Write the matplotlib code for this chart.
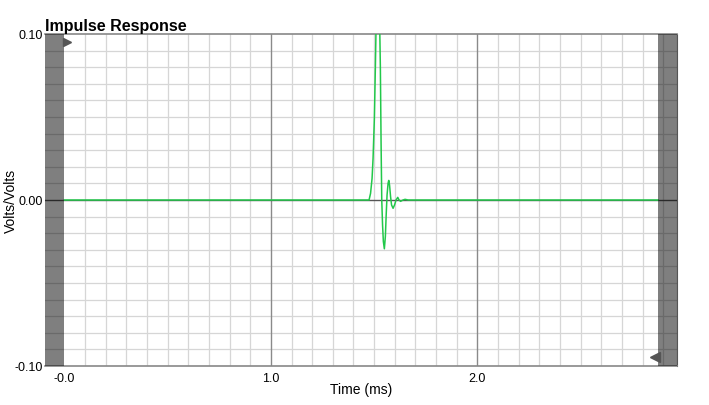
import numpy as np
import matplotlib
matplotlib.use("Agg")
from matplotlib import pyplot as plt
from matplotlib.transforms import blended_transform_factory

# impulse response samples (time in ms, volts/volts)
t_ms = [0.0, 1.4755, 1.4828, 1.4901, 1.4949, 1.5012, 1.5061, 1.5109, 1.5167,
        1.5215, 1.5264, 1.5303, 1.5337, 1.5370, 1.5409, 1.5448, 1.5496,
        1.5545, 1.5588, 1.5627, 1.5676, 1.5709, 1.5748, 1.5797, 1.5845,
        1.5918, 1.5990, 1.6063, 1.6145, 1.6208, 1.6281, 1.6402, 1.6499,
        1.6644, 2.875]
resp = [0.0, 0.0, 0.004, 0.013, 0.025, 0.049, 0.080, 0.115, 0.140,
        0.135, 0.110, 0.080, 0.035, 0.0, -0.015, -0.025, -0.0294,
        -0.022, -0.008, 0.003, 0.010, 0.0118, 0.009, 0.002, -0.003,
        -0.005, -0.003, 0.0, 0.0016, 0.0, -0.0008, 0.0, 0.0004,
        0.0, 0.0]

x_ticks = [0.0, 1.0, 2.0]
x_tick_labels = ["-0.0", "1.0", "2.0"]
y_ticks = [-0.10, 0.0, 0.10]
y_tick_labels = ["-0.10", "0.00", "0.10"]

xmin, xmax = -0.094, 2.967
cursor_left, cursor_right = 0.0, 2.875

plt.rcParams['font.family'] = ['Liberation Sans', 'DejaVu Sans']

fig = plt.figure(figsize=(7.09, 4.06), dpi=100)
W, H = 709, 406
ax = fig.add_axes([45 / W, 1 - 367 / H, (677 - 45) / W, (367 - 35) / H])

ax.set_xlim(xmin, xmax)
ax.set_ylim(-0.10, 0.10)

# grid
ax.set_xticks(np.arange(-0.0, 3.0, 0.1), minor=True)
ax.set_yticks(np.arange(-0.1, 0.1001, 0.01), minor=True)
ax.grid(which='minor', color='#d6d6d6', linewidth=0.9, zorder=0)
ax.set_xticks(x_ticks)
ax.set_xticklabels(x_tick_labels, fontsize=9)
ax.set_yticks(y_ticks)
ax.set_yticklabels(y_tick_labels, fontsize=9)
ax.tick_params(which='both', length=0)
ax.tick_params(axis='x', pad=4)
ax.tick_params(axis='y', pad=1.5)
ax.set_axisbelow(True)
for xv in x_ticks[1:]:
    ax.axvline(xv, color='#8a8a8a', linewidth=1.0, zorder=1)
ax.axhline(0.0, color='#555555', linewidth=1.0, zorder=1)

ax.plot(t_ms, resp, color='#22c84a', linewidth=1.1, zorder=3, clip_on=True)

# cursor bands
ax.axvspan(xmin, cursor_left, color='black', alpha=0.5, linewidth=0, zorder=4)
ax.axvspan(cursor_right, xmax, color='black', alpha=0.5, linewidth=0, zorder=4)
trans = blended_transform_factory(ax.transData, ax.transAxes)
ax.plot([cursor_left + 0.014], [0.976], marker='>', markersize=6, color='#555555',
        transform=trans, clip_on=False, zorder=5)
ax.plot([cursor_right - 0.015], [0.027], marker='<', markersize=7.5, color='#555555',
        transform=trans, clip_on=False, zorder=5)

for side in ['top', 'bottom']:
    ax.spines[side].set_color('#888888')
    ax.spines[side].set_linewidth(1.2)
ax.spines['left'].set_visible(False)
ax.spines['right'].set_color('#555555')

ax.set_xlabel('Time (ms)', fontsize=10, labelpad=-1)
ax.set_ylabel('Volts/Volts', fontsize=10)
ax.yaxis.set_label_coords((18 - 45) / 632, 0.5)
fig.text(45 / W, 1 - 31 / H, 'Impulse Response', fontsize=11.5, fontweight='bold',
         ha='left', va='baseline')

fig.savefig('out.png', dpi=100)
